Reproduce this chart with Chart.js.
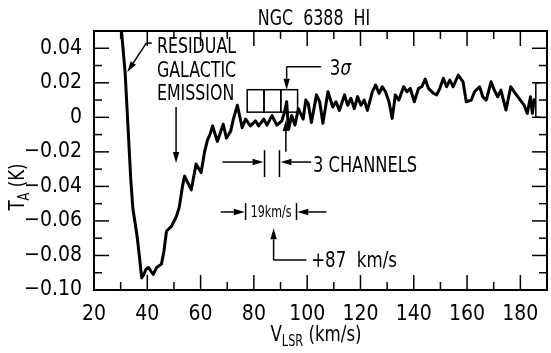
<!DOCTYPE html>
<html>
<head>
<meta charset="utf-8">
<script src="https://cdn.jsdelivr.net/npm/chart.js@4.4.1/dist/chart.umd.min.js"></script>
<style>
  html, body { margin: 0; padding: 0; background: #fff; }
  canvas { display: block; }
</style>
</head>
<body>
<canvas id="chart" width="551" height="353"></canvas>
<script>
// Spectrum: V_LSR (km/s) and antenna temperature T_A (K)
const velocity = [
  29.2, 31.7, 33.8, 34.6, 36.1, 37.0, 37.9, 38.7, 39.5, 40.5, 41.3, 42.2, 43.5, 45.3,
  46.2, 47.2, 49.1, 50.9, 52.0, 53.2, 54.0, 56.5, 58.3, 60.2, 61.5, 62.6, 63.5, 64.5,
  66.3, 68.5, 69.7, 71.3, 72.3, 73.8, 75.6, 76.9, 78.7, 80.6, 81.8, 83.7, 84.9, 86.8,
  88.6, 90.5, 91.5, 92.3, 93.0, 94.2, 95.4, 96.7, 98.5, 99.5, 100.4, 101.6, 103.5, 104.7,
  105.9, 107.8, 109.6, 110.8, 112.1, 114.0, 115.2, 116.4, 117.7, 118.9, 120.2, 121.4, 122.6, 124.5,
  125.7, 127.0, 128.2, 129.4, 130.7, 131.9, 133.1, 134.4, 136.2, 137.5, 138.7, 140.2, 141.8, 143.0,
  144.3, 145.5, 147.3, 148.6, 149.8, 151.1, 152.3, 153.5, 154.8, 156.7, 158.5, 159.7, 161.6, 162.8,
  164.7, 165.9, 167.2, 169.0, 170.2, 171.5, 172.7, 174.6, 176.4, 177.7, 179.5, 181.4, 182.6, 183.8,
  184.5, 185.3
];
const antennaTemp = [
  0.070, 0.0255, -0.036, -0.053, -0.068, -0.080, -0.093, -0.091, -0.088, -0.087, -0.089, -0.091, -0.087, -0.085,
  -0.078, -0.066, -0.063, -0.0575, -0.052, -0.040, -0.034, -0.042, -0.027, -0.032, -0.020, -0.013, -0.010, -0.005,
  -0.014, -0.004, -0.012, -0.008, -0.001, 0.007, -0.006, -0.001, -0.005, -0.002, -0.005, -0.001, -0.0045, 0.001,
  -0.0045, -0.002, 0.003, 0.009, -0.007, 0.001, -0.0045, 0.005, -0.001, 0.010, 0.008, -0.003, 0.013, 0.009,
  -0.0035, 0.0148, 0.006, 0.009, 0.004, 0.013, 0.007, 0.011, 0.005, 0.012, 0.007, 0.010, 0.004, 0.015,
  0.0187, 0.0139, 0.0177, 0.0148, 0.009, -0.0006, 0.0129, 0.010, 0.0177, 0.0148, 0.0168, 0.009, 0.0168, 0.0177,
  0.0222, 0.0168, 0.014, 0.013, 0.0168, 0.0226, 0.0177, 0.0216, 0.0177, 0.0245, 0.0206, 0.009, 0.010, 0.0148,
  0.0177, 0.0119, 0.010, 0.0206, 0.0158, 0.0119, 0.0158, 0.0042, 0.0177, 0.0148, 0.011, 0.0071, 0.0023, 0.0119,
  0.0023, 0.011
];

const xRange = [20, 190];
const yRange = [-0.10, 0.05];
const xTickStep = 10;
const yTickStep = 0.01;

const FONT = "'Liberation Sans Narrow', 'DejaVu Sans Condensed', 'Liberation Sans', sans-serif";

function xLabel(v) {
  return (Math.round(v) % 20 === 0 && v < 190) ? String(Math.round(v)) : '';
}

function yLabel(v) {
  const r = Math.round(v * 100);
  if (r % 2 !== 0) return '';
  if (r === 0) return '0';
  return (r < 0 ? '\u2212' : '') + Math.abs(r / 100).toFixed(2);
}

function arrow(ctx, x1, y1, x2, y2) {
  const ang = Math.atan2(y2 - y1, x2 - x1);
  const len = 11, half = 3.2;
  const bx = x2 - Math.cos(ang) * len, by = y2 - Math.sin(ang) * len;
  ctx.beginPath();
  ctx.moveTo(x1, y1);
  ctx.lineTo(bx, by);
  ctx.stroke();
  ctx.beginPath();
  ctx.moveTo(x2, y2);
  ctx.lineTo(bx - Math.sin(ang) * half, by + Math.cos(ang) * half);
  ctx.lineTo(bx + Math.sin(ang) * half, by - Math.cos(ang) * half);
  ctx.closePath();
  ctx.fill();
}

function line(ctx, pts) {
  ctx.beginPath();
  ctx.moveTo(pts[0][0], pts[0][1]);
  for (let i = 1; i < pts.length; i++) ctx.lineTo(pts[i][0], pts[i][1]);
  ctx.stroke();
}

// condensed text: squeeze horizontally by sx (left aligned at x)
function narrowText(ctx, str, x, y, sx) {
  ctx.save();
  ctx.translate(x, y);
  ctx.scale(sx, 1);
  ctx.fillText(str, 0, 0);
  ctx.restore();
  return ctx.measureText(str).width * sx;
}

// frame, inward ticks and the annotations of the figure
const figurePlugin = {
  id: 'figure',
  afterDraw(chart) {
    const { ctx, chartArea: a, scales } = chart;
    const X = (v) => scales.x.getPixelForValue(v);
    const Y = (v) => scales.y.getPixelForValue(v);
    const SQ = 0.84;
    ctx.save();
    ctx.strokeStyle = '#000';
    ctx.fillStyle = '#000';
    ctx.textAlign = 'left';
    ctx.textBaseline = 'alphabetic';

    // frame
    ctx.lineWidth = 2;
    ctx.strokeRect(a.left, a.top, a.right - a.left, a.bottom - a.top);

    // inward ticks on all four sides
    ctx.lineWidth = 1.5;
    scales.x.ticks.forEach((t) => {
      const px = X(t.value);
      const len = Math.round(t.value) % 20 === 0 ? 15 : 8;
      line(ctx, [[px, a.bottom], [px, a.bottom - len]]);
      line(ctx, [[px, a.top], [px, a.top + len]]);
    });
    scales.y.ticks.forEach((t) => {
      const py = Y(t.value);
      const len = Math.round(t.value * 100) % 2 === 0 ? 15 : 8;
      line(ctx, [[a.left, py], [a.left + len, py]]);
      line(ctx, [[a.right, py], [a.right - len, py]]);
    });

    // title
    ctx.font = '21px ' + FONT;
    const title = 'NGC  6388  HI';
    narrowText(ctx, title, 314 - ctx.measureText(title).width * SQ / 2, 25, SQ);

    // x axis title: V_LSR (km/s)
    const big = '22px ' + FONT, small = '15px ' + FONT;
    ctx.font = big; const wV = ctx.measureText('V').width * SQ;
    ctx.font = small; const wS = ctx.measureText('LSR').width * SQ;
    ctx.font = big; const wR = ctx.measureText(' (km/s)').width * SQ;
    let sx = 316 - (wV + wS + wR) / 2;
    narrowText(ctx, 'V', sx, 341, SQ);
    ctx.font = small; narrowText(ctx, 'LSR', sx + wV, 346, SQ);
    ctx.font = big; narrowText(ctx, ' (km/s)', sx + wV + wS, 341, SQ);

    // y axis title: T_A (K)
    ctx.save();
    ctx.translate(24, 187);
    ctx.rotate(-Math.PI / 2);
    ctx.font = big; const wT = ctx.measureText('T').width * SQ;
    ctx.font = small; const wA = ctx.measureText('A').width * SQ;
    ctx.font = big; const wK = ctx.measureText(' (K)').width * SQ;
    sx = -(wT + wA + wK) / 2;
    narrowText(ctx, 'T', sx, 0, SQ);
    ctx.font = small; narrowText(ctx, 'A', sx + wT, 5, SQ);
    ctx.font = big; narrowText(ctx, ' (K)', sx + wT + wA, 0, SQ);
    ctx.restore();

    // residual galactic emission label and arrows
    ctx.font = '22px ' + FONT;
    narrowText(ctx, 'RESIDUAL', X(43.6), Y(0.0371), 0.8);
    narrowText(ctx, 'GALACTIC', X(43.6), Y(0.0235), 0.8);
    narrowText(ctx, 'EMISSION', X(43.6), Y(0.0100), 0.8);
    ctx.lineWidth = 1.5;
    line(ctx, [[X(41.7), Y(0.0430)], [X(39.6), Y(0.0430)]]);
    arrow(ctx, X(39.6), Y(0.0430), X(32.5), Y(0.0262));
    arrow(ctx, X(50.8), Y(0.006), X(50.8), Y(-0.0265));

    // 3 sigma boxes
    const boxX = [77.5, 83.8, 90.1, 96.4];
    for (let i = 0; i < 3; i++) {
      ctx.strokeRect(X(boxX[i]), Y(0.016), X(boxX[i + 1]) - X(boxX[i]), Y(0.003) - Y(0.016));
    }
    line(ctx, [[X(105.2), Y(0.0293)], [X(92.3), Y(0.0293)]]);
    arrow(ctx, X(92.3), Y(0.0293), X(92.3), Y(0.016));
    ctx.font = '22px ' + FONT;
    const w3 = narrowText(ctx, '3', X(108.5), Y(0.0245), SQ);
    ctx.font = 'italic 22px ' + FONT;
    narrowText(ctx, '\u03c3', X(108.5) + w3, Y(0.0245), SQ);
    arrow(ctx, X(92.0), Y(-0.020), X(92.0), Y(-0.0015));

    // 3 channels marker
    line(ctx, [[X(84.0), Y(-0.019)], [X(84.0), Y(-0.0346)]]);
    line(ctx, [[X(89.6), Y(-0.019)], [X(89.6), Y(-0.0346)]]);
    arrow(ctx, X(68.2), Y(-0.0259), X(83.6), Y(-0.0259));
    arrow(ctx, X(101.5), Y(-0.0259), X(90.0), Y(-0.0259));
    ctx.font = '21px ' + FONT;
    narrowText(ctx, '3 CHANNELS', X(102.2), Y(-0.0314), 0.86);

    // 19 km/s marker
    line(ctx, [[X(76.9), Y(-0.0496)], [X(76.9), Y(-0.0595)]]);
    line(ctx, [[X(96.0), Y(-0.0496)], [X(96.0), Y(-0.0595)]]);
    arrow(ctx, X(67.6), Y(-0.0548), X(76.6), Y(-0.0548));
    arrow(ctx, X(107.2), Y(-0.0548), X(96.3), Y(-0.0548));
    ctx.font = '15px ' + FONT;
    const w19 = ctx.measureText('19km/s').width * 0.82;
    narrowText(ctx, '19km/s', (X(76.9) + X(96.0)) / 2 - w19 / 2, Y(-0.0578), 0.82);

    // +87 km/s marker
    line(ctx, [[X(99.7), Y(-0.0826)], [X(87.4), Y(-0.0826)]]);
    arrow(ctx, X(87.4), Y(-0.0826), X(87.4), Y(-0.0643));
    ctx.font = '22px ' + FONT;
    narrowText(ctx, '+87  km/s', X(101.5), Y(-0.0865), SQ);

    // 0.02 K scale bracket at the right end
    line(ctx, [[X(187.7), Y(0.02)], [X(185.8), Y(0.02)], [X(185.8), Y(0)], [X(187.7), Y(0)]]);

    ctx.restore();
  }
};

new Chart(document.getElementById('chart'), {
  type: 'line',
  data: {
    datasets: [{
      data: velocity.map((v, i) => ({ x: v, y: antennaTemp[i] })),
      borderColor: '#000',
      borderWidth: 3,
      pointRadius: 0,
      tension: 0,
      borderJoinStyle: 'round',
      fill: false,
    }],
  },
  options: {
    responsive: false,
    animation: false,
    devicePixelRatio: 1,
    layout: { padding: { top: 31, right: 0, bottom: 0, left: 0 } },
    plugins: {
      legend: { display: false },
      tooltip: { enabled: false },
    },
    scales: {
      x: {
        type: 'linear',
        min: xRange[0],
        max: xRange[1],
        grid: { display: false },
        border: { display: true, color: '#000', width: 2 },
        ticks: {
          stepSize: xTickStep,
          autoSkip: false,
          maxRotation: 0,
          color: '#000',
          padding: 4,
          font: { family: FONT, size: 21 },
          callback: xLabel,
        },
        afterFit: (scale) => { scale.height = 63; },
      },
      y: {
        type: 'linear',
        min: yRange[0],
        max: yRange[1],
        grid: { display: false },
        border: { display: true, color: '#000', width: 2 },
        ticks: {
          stepSize: yTickStep,
          autoSkip: false,
          color: '#000',
          padding: 4,
          font: { family: FONT, size: 21 },
          callback: yLabel,
        },
        afterFit: (scale) => { scale.width = 94; },
      },
    },
  },
  plugins: [figurePlugin],
});
</script>
</body>
</html>
